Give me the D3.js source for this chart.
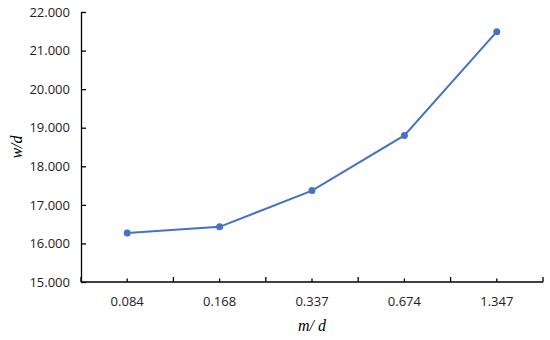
<!DOCTYPE html>
<html><head><meta charset="utf-8">
<script src="https://cdn.jsdelivr.net/npm/d3@7"></script>
<style>body{margin:0;background:#fff}</style>
</head><body><svg id="c" width="550" height="340"></svg>
<script>
const categories = ["0.084","0.168","0.337","0.674","1.347"];
const values = [16.27, 16.43, 17.37, 18.80, 21.49];
const yTicks = [15,16,17,18,19,20,21,22];

const svg = d3.select("#c");
const L = 81, R = 543, T = 12, B = 282;
const x = d3.scaleBand().domain(categories).range([L, R]);
const y = d3.scaleLinear().domain([15, 22]).range([B, T]);
const font = "'Open Sans', sans-serif";

// y axis
const ya = svg.append("g").attr("transform", `translate(${L},0)`)
  .call(d3.axisLeft(y).tickValues(yTicks).tickFormat(d3.format(".3f")).tickSizeInner(-5).tickSizeOuter(0).tickPadding(11));
ya.select(".domain").attr("stroke", "#000").attr("stroke-width", 1.3);
ya.selectAll(".tick line").attr("stroke", "#000").attr("stroke-width", 1.3);
ya.selectAll("text").attr("font-family", font).attr("font-size", 13).attr("fill", "#222");

// x axis
const xa = svg.append("g").attr("transform", `translate(0,${B})`);
xa.append("line").attr("x1", L).attr("x2", R).attr("stroke", "#000").attr("stroke-width", 1.3);
const bounds = categories.map(c => x(c)).concat([R]);
xa.selectAll(".bt").data(bounds).enter().append("line")
  .attr("x1", d => d).attr("x2", d => d).attr("y1", 0).attr("y2", -5)
  .attr("stroke", "#000").attr("stroke-width", 1.3);
xa.selectAll(".ct").data(categories).enter().append("line")
  .attr("x1", d => x(d) + x.bandwidth()/2).attr("x2", d => x(d) + x.bandwidth()/2)
  .attr("y1", 0).attr("y2", -3.5).attr("stroke", "#000").attr("stroke-width", 1.3);
xa.selectAll(".tl").data(categories).enter().append("text")
  .attr("x", d => x(d) + x.bandwidth()/2).attr("y", 24)
  .attr("text-anchor", "middle").attr("font-family", font).attr("font-size", 13).attr("fill", "#222")
  .text(d => d);

// line
const px = d => x(d) + x.bandwidth()/2;
const pts = categories.map((c, i) => [px(c), y(values[i])]);
svg.append("path").attr("d", d3.line()(pts)).attr("fill", "none")
  .attr("stroke", "#4472C4").attr("stroke-width", 2);
svg.selectAll(".pt").data(pts).enter().append("circle")
  .attr("cx", d => d[0]).attr("cy", d => d[1]).attr("r", 3.5).attr("fill", "#4472C4");

// titles
svg.append("text").attr("x", (L + R)/2).attr("y", 331).attr("text-anchor", "middle")
  .attr("font-family", "'Liberation Serif', serif").attr("font-style", "italic").attr("font-size", 16)
  .text("m/ d");
svg.append("text").attr("transform", `translate(22,${(T + B)/2}) rotate(-90)`).attr("text-anchor", "middle")
  .attr("font-family", "'Liberation Serif', serif").attr("font-style", "italic").attr("font-size", 16)
  .text("w/d");
</script></body></html>
